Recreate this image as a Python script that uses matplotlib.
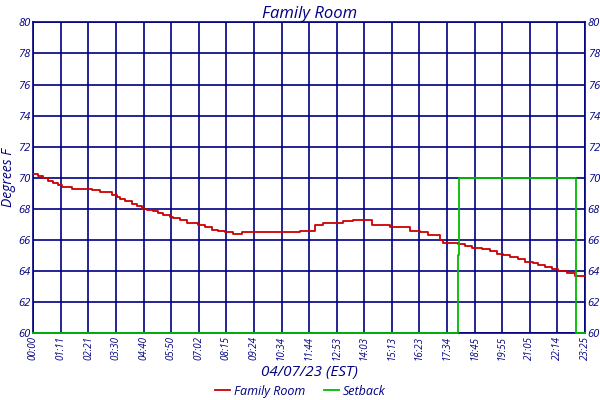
import matplotlib
matplotlib.use("Agg")
import matplotlib.pyplot as plt
import numpy as np

# Data (minutes after midnight, temperature in F)
temp_minutes = [0, 12, 25, 38, 51, 64, 72, 98, 149, 170, 200, 214, 221, 234, 251, 265,
                276, 289, 304, 318, 330, 348, 357, 374, 391, 420, 437, 454, 471, 488,
                509, 531, 679, 717, 738, 789, 814, 862, 908, 959, 985, 1005, 1036, 1043,
                1082, 1099, 1117, 1143, 1163, 1181, 1196, 1214, 1234, 1252, 1273, 1285,
                1303, 1321, 1336, 1359, 1380, 1392, 1405]
temp_values = [70.22, 70.1, 70.0, 69.8, 69.65, 69.5, 69.4, 69.3, 69.2, 69.05, 68.9, 68.75,
               68.6, 68.5, 68.3, 68.15, 68.0, 67.95, 67.85, 67.7, 67.6, 67.5, 67.4, 67.3,
               67.1, 66.95, 66.8, 66.65, 66.6, 66.5, 66.4, 66.5, 66.6, 66.97, 67.1, 67.2,
               67.25, 66.97, 66.8, 66.6, 66.5, 66.3, 66.0, 65.82, 65.75, 65.6, 65.5, 65.4,
               65.25, 65.1, 65.0, 64.9, 64.75, 64.6, 64.5, 64.4, 64.25, 64.1, 64.0, 63.85,
               63.7, 63.65, 63.65]

setback_minutes = [0, 1081, 1084, 1382, 1405]
setback_values = [60, 65, 70, 60, 60]

x_tick_labels = ["00:00", "01:11", "02:21", "03:30", "04:40", "05:50", "07:02", "08:15",
                 "09:24", "10:34", "11:44", "12:53", "14:03", "15:13", "16:23", "17:34",
                 "18:45", "19:55", "21:05", "22:14", "23:25"]
y_ticks = list(range(60, 81, 2))

navy = "#000080"
font = ["Open Sans", "DejaVu Sans"]

fig = plt.figure(figsize=(6, 4), dpi=100)
ax = fig.add_axes([0.0555, 0.1675, 0.9195, 0.7765])

ax.plot(temp_minutes, temp_values, drawstyle="steps-post", color="#CC0000", lw=1.3,
        label="Family Room", zorder=3)
ax.plot(setback_minutes, setback_values, drawstyle="steps-post", color="#00BB00", lw=1.3,
        label="Setback", zorder=4, clip_on=False)

ax.set_xlim(0, 1405)
ax.set_ylim(60, 80)
ax.set_xticks(np.linspace(0, 1405, len(x_tick_labels)))
ax.set_xticklabels(x_tick_labels, rotation=90, fontsize=7, fontstyle="italic",
                   color=navy, family=font)
ax.set_yticks(y_ticks)
ax.set_yticklabels([str(v) for v in y_ticks], fontsize=8, fontstyle="italic",
                   color=navy, family=font)
ax.tick_params(axis="both", length=0, pad=2)
ax.tick_params(axis="y", labelright=True, right=False)
ax.grid(True, color=navy, lw=1.2)
ax.set_axisbelow(True)
for s in ax.spines.values():
    s.set_color(navy)
    s.set_linewidth(1.2)

ax.set_title("Family Room", fontsize=12, fontstyle="italic", color=navy, family=font, pad=2)
ax.set_xlabel("04/07/23 (EST)", fontsize=11, fontstyle="italic", color=navy, family=font,
              labelpad=4)
ax.set_ylabel("Degrees F", fontsize=10, fontstyle="italic", color=navy, family=font)
ax.yaxis.set_label_coords(-0.032, 0.5)

leg = fig.legend(loc="center", bbox_to_anchor=(0.5, 0.022), ncol=2, frameon=False,
                 handlelength=1.2, handletextpad=0.3, columnspacing=1.5,
                 prop={"family": font, "style": "italic", "size": 9})
for t in leg.get_texts():
    t.set_color(navy)

fig.savefig("out.png", dpi=100)
